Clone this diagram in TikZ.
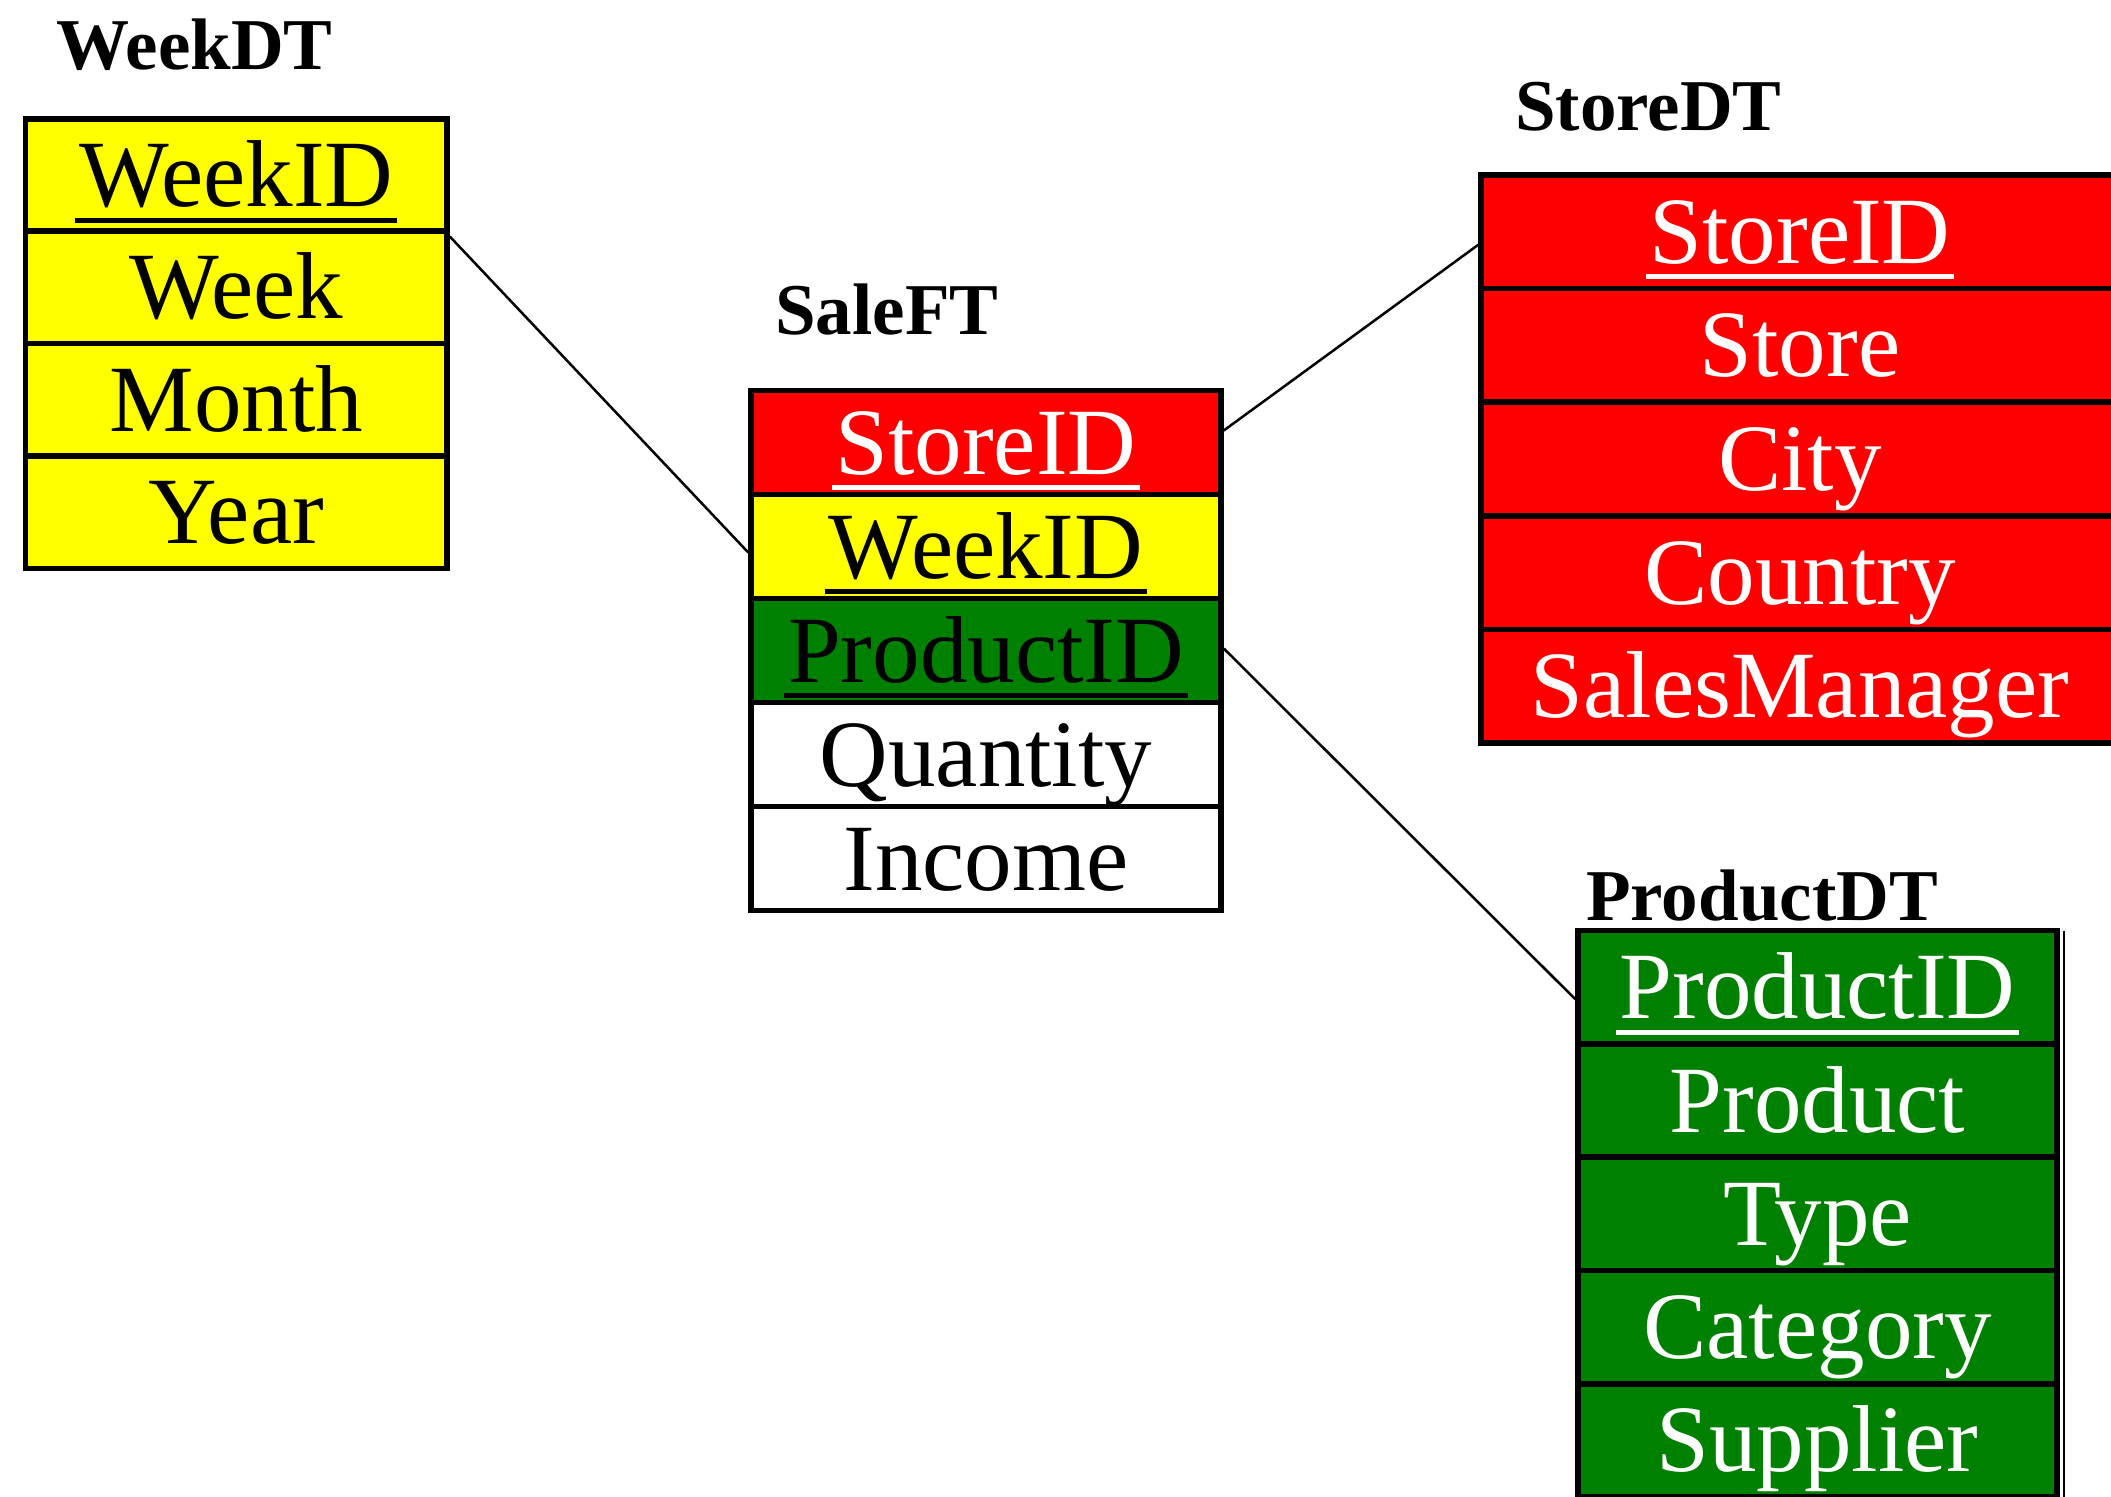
\documentclass[tikz,border=0pt]{standalone}
\usepackage{fontspec}
\setmainfont{Liberation Serif}

\definecolor{dimred}{RGB}{255,0,0}
\definecolor{dimyellow}{RGB}{255,255,0}
\definecolor{dimgreen}{RGB}{0,128,0}

% key attribute: text with a thick rule below it, in the current colour
\newcommand{\keyfield}[1]{\setbox0=\hbox{#1}\rlap{\kern-4pt\rule[-16pt]{\dimexpr\wd0+8pt\relax}{5pt}}\box0}

\tikzset{
  tabletitle/.style={anchor=base west, inner sep=0pt,
    font=\fontsize{73}{80}\selectfont\bfseries},
  field/.style={rectangle, draw=black, line width=5.5pt, inner sep=0pt,
    text height=63pt, text depth=0pt, font=\fontsize{95}{100}\selectfont},
  weekrow/.style={field, fill=dimyellow, text=black,
    minimum width=421.4pt, minimum height=112.4pt},
  salerow/.style={field, minimum width=470pt, minimum height=104pt},
  storerow/.style={field, fill=dimred, text=white,
    minimum width=638pt, minimum height=113.6pt},
  productrow/.style={field, fill=dimgreen, text=white,
    minimum width=479pt, minimum height=113.3pt},
  link/.style={draw=black, line width=2.5pt}
}

\begin{document}
\begin{tikzpicture}[x=1pt,y=-1pt]
\useasboundingbox (0,0) rectangle (2111,1496);
\clip (0,0) rectangle (2111,1496);
\fill[white] (0,0) rectangle (2111,1496);

% week dimension table
\node[tabletitle] (wt) at (56.5,70) {WeekDT};
\node[weekrow] (w1) at (236.3,175.0) {\keyfield{WeekID}};
\node[weekrow] (w2) at (236.3,287.4) {Week};
\node[weekrow] (w3) at (236.3,399.8) {Month};
\node[weekrow] (w4) at (236.3,512.2) {Year};

% sales fact table
\node[tabletitle] (st) at (775,334) {SaleFT};
\node[salerow, fill=dimred, text=white] (s1) at (986,442.5) {\keyfield{StoreID}};
\node[salerow, fill=dimyellow, text=black] (s2) at (986,546.5) {\keyfield{WeekID}};
\node[salerow, fill=dimgreen, text=black] (s3) at (986,650.5) {\keyfield{ProductID}};
\node[salerow, fill=white, text=black] (s4) at (986,754.5) {Quantity};
\node[salerow, fill=white, text=black] (s5) at (986,858.5) {Income};

% store dimension table
\node[tabletitle] (tt) at (1515,130) {StoreDT};
\node[storerow] (t1) at (1800,231.8) {\keyfield{StoreID}};
\node[storerow] (t2) at (1800,345.4) {Store};
\node[storerow] (t3) at (1800,459.0) {City};
\node[storerow] (t4) at (1800,572.6) {Country};
\node[storerow] (t5) at (1800,686.2) {SalesManager};

% product dimension table
\node[tabletitle] (pt) at (1586,920) {ProductDT};
\node[productrow] (p1) at (1817.5,987.2) {\keyfield{ProductID}};
\node[productrow] (p2) at (1817.5,1100.5) {Product};
\node[productrow] (p3) at (1817.5,1213.8) {Type};
\node[productrow] (p4) at (1817.5,1327.1) {Category};
\node[productrow] (p5) at (1817.5,1440.4) {Supplier};
% thin outer edge beside the product table
\draw[line width=1.5pt] ([xshift=4pt,yshift=-3pt]p1.north east) -- ([xshift=4pt]p5.south east);

% links between the fact table and the dimensions
\draw[link] ([yshift=-8pt]w2.north east) -- ([yshift=-6pt]s2.west);
\draw[link] ([yshift=12pt]s1.east) -- ([yshift=-13pt]t1.west);
\draw[link] ([yshift=2pt]s3.east) -- ([yshift=-12pt]p1.west);
\end{tikzpicture}
\end{document}
